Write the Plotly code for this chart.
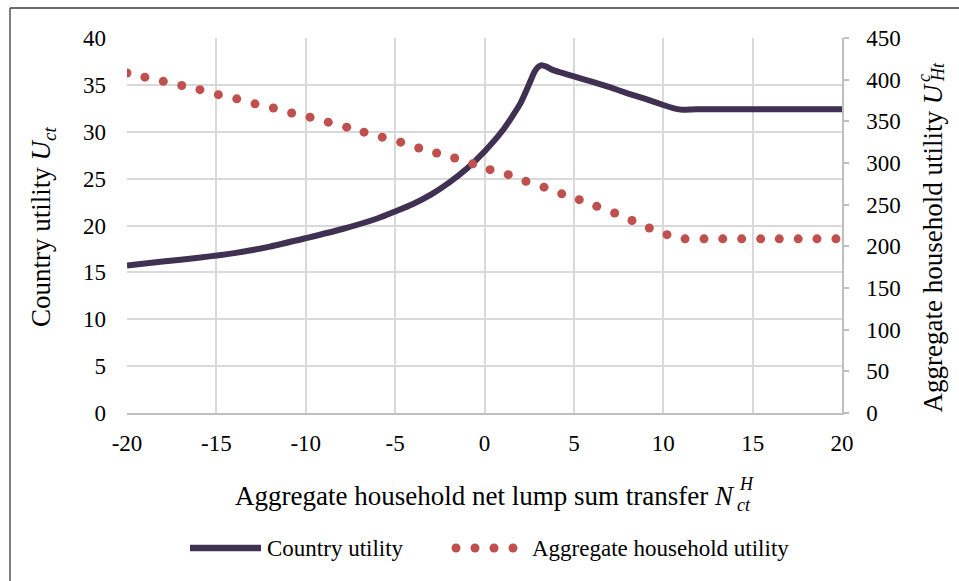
import plotly.graph_objects as go

# ---------------- data ----------------
country_x = [-20, -18, -16, -14, -12, -10, -8, -6, -5, -4, -3, -2, -1, 0, 1, 2,
             2.5, 2.8, 3.0, 3.2, 3.45, 3.8, 4.3, 5, 6, 7, 8, 9, 10, 10.6, 11.1,
             11.6, 12, 14, 16, 18, 20]
country_u = [15.73, 16.15, 16.55, 17.05, 17.75, 18.65, 19.6, 20.75, 21.5, 22.3, 23.3,
             24.55, 26.05, 27.9, 30.1, 33.0, 35.1, 36.4, 36.9, 37.1, 36.95, 36.6,
             36.3, 35.9, 35.35, 34.75, 34.1, 33.5, 32.85, 32.5, 32.35, 32.38, 32.4,
             32.4, 32.4, 32.4, 32.4]

household_x = [-20.0, -19.0, -17.97, -16.94, -15.92, -14.89, -13.86, -12.84, -11.81, -10.79,
               -9.76, -8.74, -7.71, -6.74, -5.72, -4.69, -3.68, -2.68, -1.67, -0.66,
               0.31, 1.33, 2.32, 3.33, 4.32, 5.30, 6.28, 7.28, 8.25, 9.22,
               10.21, 11.22, 12.28, 13.33, 14.39, 15.45, 16.49, 17.55, 18.60, 19.66]
household_u = [408, 403, 398, 393, 388, 382, 377, 371, 366, 360,
               355, 349, 343, 337, 331, 325, 318, 312, 306, 299,
               292, 286, 278, 271, 263, 256, 248, 240, 231, 222,
               214, 209, 209, 209, 209, 209, 209, 209, 209, 209]

x_ticks = [-20, -15, -10, -5, 0, 5, 10, 15, 20]
x_tick_labels = ["-20", "-15", "-10", "-5", "0", "5", "10", "15", "20"]
left_ticks = [0, 5, 10, 15, 20, 25, 30, 35, 40]
right_ticks = [0, 50, 100, 150, 200, 250, 300, 350, 400, 450]

LINE_COLOR = "#403152"
DOT_COLOR = "#C0504D"
GRID = "#d9d9d9"
AXIS = "#bfbfbf"
FONT = "Liberation Serif"

W, H = 959, 581
L, R, T, B = 127, 117, 38, 168
PW, PH = W - L - R, H - T - B


def px_x(px):
    return (px - L) / PW


def px_y(py):
    return (H - B - py) / PH


fig = go.Figure()
fig.add_trace(go.Scatter(x=country_x, y=country_u, mode="lines",
                         line=dict(color=LINE_COLOR, width=6, shape="spline", smoothing=0.6),
                         name="Country utility", showlegend=False, yaxis="y"))
fig.add_trace(go.Scatter(x=household_x, y=household_u, mode="markers",
                         marker=dict(color=DOT_COLOR, size=9),
                         name="Aggregate household utility", showlegend=False, yaxis="y2"))

fig.update_layout(
    width=W, height=H,
    margin=dict(l=L, r=R, t=T, b=B, pad=0),
    paper_bgcolor="white", plot_bgcolor="white",
    font=dict(family=FONT, color="#000000", size=23),
    xaxis=dict(range=[-20, 20], tickvals=x_ticks, ticktext=x_tick_labels,
               showgrid=True, gridcolor=GRID, gridwidth=1.5, zeroline=False,
               showline=True, linecolor=AXIS, linewidth=1.5,
               ticks="", ticklabelstandoff=9, tickfont=dict(size=23)),
    yaxis=dict(range=[0, 40], tickvals=left_ticks, showgrid=True, gridcolor=GRID,
               gridwidth=1.5, zeroline=False, showline=False, ticks="",
               ticklabelstandoff=20, tickfont=dict(size=23)),
    yaxis2=dict(range=[0, 450], tickvals=right_ticks, overlaying="y", side="right",
                showgrid=False, zeroline=False, showline=True, linecolor=AXIS,
                linewidth=1.5, ticks="outside", ticklen=5, tickcolor=AXIS, tickwidth=1.5,
                ticklabelstandoff=13, tickfont=dict(size=23)),
    showlegend=False,
)

ann = []
# left axis title
ann.append(dict(text="Country utility <i>U</i><sub><i>ct</i></sub>", x=px_x(43), y=px_y(227),
                xref="paper", yref="paper", textangle=-90, showarrow=False,
                font=dict(size=27), xanchor="center", yanchor="middle"))
# x axis title
ann.append(dict(text="Aggregate household net lump sum transfer <i>N</i>", x=px_x(736), y=px_y(496),
                xref="paper", yref="paper", showarrow=False, font=dict(size=27),
                xanchor="right", yanchor="middle", borderpad=0))
ann.append(dict(text="<i>H</i>", x=px_x(738), y=px_y(495), xref="paper", yref="paper",
                showarrow=False, font=dict(size=18), xanchor="left", yanchor="bottom", borderpad=0))
ann.append(dict(text="<i>ct</i>", x=px_x(736), y=px_y(494), xref="paper", yref="paper",
                showarrow=False, font=dict(size=18), xanchor="left", yanchor="top", borderpad=0))
# right axis title
ann.append(dict(text="Aggregate household utility <i>U</i>", x=px_x(932), y=px_y(83),
                xref="paper", yref="paper", textangle=-90, showarrow=False,
                font=dict(size=27), xanchor="center", yanchor="top", borderpad=0))
ann.append(dict(text="<i>c</i>", x=px_x(924), y=px_y(83), xref="paper", yref="paper",
                textangle=-90, showarrow=False, font=dict(size=18),
                xanchor="center", yanchor="bottom", borderpad=0))
ann.append(dict(text="<i>Ht</i>", x=px_x(938), y=px_y(83), xref="paper", yref="paper",
                textangle=-90, showarrow=False, font=dict(size=18),
                xanchor="center", yanchor="bottom", borderpad=0))
# legend texts
ann.append(dict(text="Country utility", x=px_x(266), y=px_y(548), xref="paper", yref="paper",
                showarrow=False, font=dict(size=23), xanchor="left", yanchor="middle", borderpad=0))
ann.append(dict(text="Aggregate household utility", x=px_x(531), y=px_y(548), xref="paper",
                yref="paper", showarrow=False, font=dict(size=23), xanchor="left",
                yanchor="middle", borderpad=0))
fig.update_layout(annotations=ann)

shapes = []
# chart border (top and left visible)
shapes.append(dict(type="line", xref="paper", yref="paper", x0=px_x(10), x1=px_x(960),
                   y0=px_y(8), y1=px_y(8), line=dict(color="#3a3a3a", width=1.3)))
shapes.append(dict(type="line", xref="paper", yref="paper", x0=px_x(10), x1=px_x(10),
                   y0=px_y(8), y1=px_y(582), line=dict(color="#3a3a3a", width=1.3)))
# legend symbols
shapes.append(dict(type="line", xref="paper", yref="paper", x0=px_x(190), x1=px_x(261),
                   y0=px_y(548), y1=px_y(548), line=dict(color=LINE_COLOR, width=6.5)))
for cx in [456, 475, 494, 513]:
    shapes.append(dict(type="circle", xref="paper", yref="paper", xsizemode="pixel",
                       ysizemode="pixel", xanchor=px_x(cx), yanchor=px_y(548),
                       x0=-4.5, x1=4.5, y0=-4.5, y1=4.5,
                       fillcolor=DOT_COLOR, line=dict(width=0)))
fig.update_layout(shapes=shapes)

fig.write_html("out.html")
